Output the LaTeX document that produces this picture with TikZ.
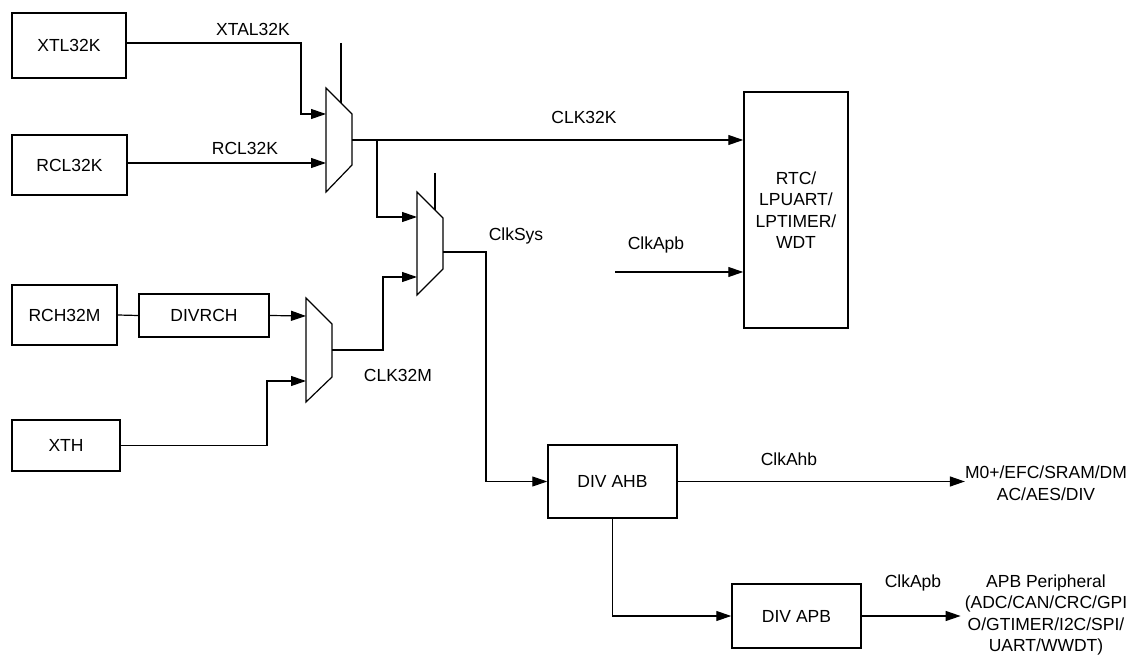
\documentclass[tikz,border=0pt]{standalone}
\usepackage{fontspec}
\setmainfont{Liberation Sans}
\usetikzlibrary{arrows.meta}
\begin{document}
\begin{tikzpicture}[x=1pt,y=-1pt,
  box/.style={draw,line width=1.5pt,inner sep=0pt,font=\fontsize{17.5}{21.5}\selectfont,align=center},
  wire/.style={line width=1.2pt},
  arr/.style={wire,-{Triangle[length=15pt,width=10pt]}},
  lbl/.style={font=\fontsize{17.5}{21.5}\selectfont,align=center,inner sep=0pt},
  muxs/.style={draw,line width=1.2pt,line join=miter}]
\useasboundingbox[fill=white] (0,0) rectangle (1136,655);

% source and block nodes
\node[box,minimum width=114pt,minimum height=65pt] (xtl) at (69,45.5) {XTL32K};
\node[box,minimum width=115pt,minimum height=60pt] (rcl) at (69.5,165) {RCL32K};
\node[box,minimum width=105pt,minimum height=60pt] (rch) at (64.5,315) {RCH32M};
\node[box,minimum width=130pt,minimum height=43pt] (divrch) at (204,315.5) {DIVRCH};
\node[box,minimum width=108pt,minimum height=51pt] (xth) at (66,445.5) {XTH};
\node[box,minimum width=104pt,minimum height=236pt] (rtc) at (796,210) {RTC/\\LPUART/\\LPTIMER/\\WDT};
\node[box,minimum width=129pt,minimum height=73pt] (divahb) at (612.5,481.5) {DIV AHB};
\node[box,minimum width=129pt,minimum height=64pt] (divapb) at (796.5,616) {DIV APB};
\node[lbl] (ahbdst) at (1046,483) {M0+/EFC/SRAM/DM\\AC/AES/DIV};
\node[lbl] (apbdst) at (1046,615) {APB Peripheral\\(ADC/CAN/CRC/GPI\\O/GTIMER/I2C/SPI/\\UART/WWDT)};

% multiplexers
\draw[muxs] (326,88) -- (352,114) -- (352,165) -- (326,192) -- cycle;
\draw[muxs] (417,192) -- (443,218) -- (443,269) -- (417,295) -- cycle;
\draw[muxs] (306,298) -- (332,324) -- (332,377) -- (306,402) -- cycle;
\coordinate (m1a) at (326,114);
\coordinate (m1b) at (326,163);
\coordinate (m1o) at (352,140);
\coordinate (m1s) at (341,103);
\coordinate (s1) at (341,43);
\coordinate (m2a) at (417,217);
\coordinate (m2b) at (417,277);
\coordinate (m2o) at (443,252);
\coordinate (m2s) at (435,210);
\coordinate (s2) at (435,173);
\coordinate (m3a) at (306,316);
\coordinate (m3b) at (306,381);
\coordinate (m3o) at (332,350);
\coordinate (br1) at (377,140);
\coordinate (ca) at (615,272);

% select lines
\draw[wire] (s1) -- (m1s);
\draw[wire] (s2) -- (m2s);

% connectors
\draw[arr] ([yshift=2.5pt]xtl.east) -- (301,43) |- (m1a);
\draw[arr] ([yshift=2pt]rcl.east) -- (m1b);
\draw[arr] (m1o) -- (m1o -| rtc.west);
\draw[arr] (br1) |- (m2a);
\draw[wire] (rch.east) -- (divrch.west);
\draw[arr] (divrch.east) -- (m3a);
\draw[arr] (xth.east) -- (267,445.5) |- (m3b);
\draw[arr] (m3o) -- (383,350) |- (m2b);
\draw[arr] (m2o) -- (486,252) |- (divahb.west);
\draw[arr] (ca) -- (ca -| rtc.west);
\draw[arr] (divahb.east) -- (divahb.east -| ahbdst.west);
\draw[arr] (divahb.south) |- (divapb.west);
\draw[arr] (divapb.east) -- ([xshift=-4pt]divapb.east -| apbdst.west);

% labels
\node[lbl] (lxtal) at (253,29) {XTAL32K};
\node[lbl] (lrcl) at (245,148) {RCL32K};
\node[lbl] (lclk32k) at (584,117) {CLK32K};
\node[lbl] (lapb1) at (656,245) {ClkApb};
\node[lbl] (lsys) at (516,236) {ClkSys};
\node[lbl] (l32m) at (398,375) {CLK32M};
\node[lbl] (lahb) at (789,459) {ClkAhb};
\node[lbl] (lapb2) at (913,583) {ClkApb};
\end{tikzpicture}
\end{document}
